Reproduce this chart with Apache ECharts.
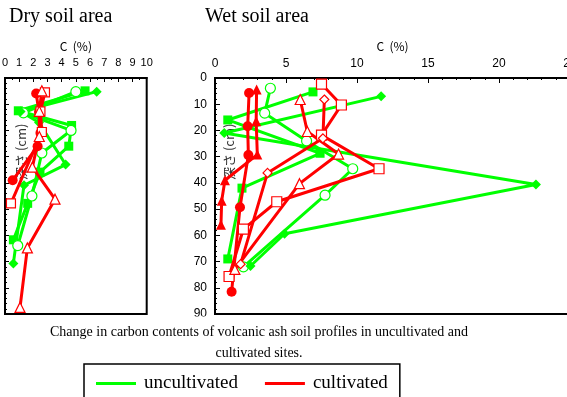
<!DOCTYPE html>
<html>
<head>
<meta charset="utf-8">
<script src="https://cdn.jsdelivr.net/npm/echarts@6/dist/echarts.min.js"></script>
<style>
  html, body { margin: 0; padding: 0; background: #fff; }
  #chart { width: 567px; height: 397px; }
</style>
</head>
<body>
<div id="chart"></div>
<script>
// [C %, depth cm]
const dryUncultSquare = [[5.65,4.9],[0.94,12.5],[4.7,18.1],[4.5,26],[2.47,35.9],[1.6,47.8],[0.59,61.7]];
const dryUncultCircle = [[5.0,5.2],[1.3,13.3],[4.66,20],[2.6,28.6],[1.9,45],[0.9,63.9]];
const dryUncultDiamond = [[6.47,5.2],[1.1,12.8],[2.4,17],[4.28,33],[1.34,40.9],[0.59,70.7]];
const dryCultCircle = [[2.2,5.9],[2.4,13],[2.5,21],[2.3,26],[0.54,39]];
const dryCultSquare = [[2.82,5.5],[2.5,12.7],[2.6,20.6],[0.42,47.8]];
const dryCultTriangle = [[2.6,4.9],[2.42,12.7],[2.42,22.3],[1.93,34],[3.53,46.2],[1.58,64.8],[1.06,87.5]];

const wetUncultSquare = [[6.9,5.3],[0.9,16],[7.4,28.7],[1.9,42],[0.9,69]];
const wetUncultCircle = [[3.9,3.9],[3.5,13.4],[6.45,24],[9.7,34.6],[7.75,44.7],[2.0,72]];
const wetUncultDiamond = [[11.7,7],[0.65,21],[22.6,40.6],[4.9,59.4],[2.5,71.7]];
const wetCultCircle = [[2.4,5.7],[2.3,18.4],[2.35,29.4],[1.76,49.3],[1.17,81.5]];
const wetCultTriFilled = [[2.93,4.4],[2.9,16.5],[2.98,29.2],[0.7,39],[0.47,46.8],[0.42,56]];
const wetCultSquare = [[7.5,2.3],[8.9,10.3],[7.5,21.8],[11.55,34.6],[4.35,47.2],[2.0,57.6],[0.99,75.7]];
const wetCultTriangle = [[6.0,8.2],[6.5,20.4],[8.7,29],[5.95,40.3],[1.4,73]];
const wetCultDiamond = [[7.7,8.2],[7.6,23],[3.7,36.2],[1.8,71]];

const GREEN = '#00ff00', RED = '#ff0000';
const chart = echarts.init(document.getElementById('chart'));

function mk(name, data, idx, symbol, filled, color, size) {
  return {
    name, type: 'line', data, xAxisIndex: idx, yAxisIndex: idx,
    symbol, symbolSize: size || 9, showSymbol: true,
    lineStyle: { color, width: 3 },
    itemStyle: filled ? { color } : { color: '#fff', borderColor: color, borderWidth: 1.2 },
    z: color === RED ? 3 : 2
  };
}

const tickLbl = { color: '#000', fontSize: 11, fontFamily: 'Liberation Sans' };
const axLine = { lineStyle: { color: '#000', width: 2 } };
const jpLabel = { text: '深さ (cm)', fontSize: 13, fontFamily: 'Noto Sans CJK JP', fill: '#333' };

chart.setOption({
  animation: false,
  grid: [
    { left: 5, top: 78, width: 141.7, height: 236, show: true, borderColor: '#000', borderWidth: 2,
      containLabel: false, outerBoundsMode: 'none' },
    { left: 215, top: 78, width: 355, height: 236, show: true, borderColor: '#000', borderWidth: 2,
      containLabel: false, outerBoundsMode: 'none' }
  ],
  xAxis: [
    { gridIndex: 0, type: 'value', position: 'top', min: 0, max: 10, interval: 1,
      name: 'C  (%)', nameLocation: 'middle', nameGap: 26,
      nameTextStyle: { color: '#000', fontSize: 12, fontFamily: 'Noto Sans CJK JP' },
      axisLine: axLine, axisTick: { inside: true, length: 4, lineStyle: { color: '#000' } },
      minorTick: { show: true, splitNumber: 2, length: 2, lineStyle: { color: '#000' } },
      axisLabel: { ...tickLbl, margin: 10 }, splitLine: { show: false } },
    { gridIndex: 1, type: 'value', position: 'top', min: 0, max: 25, interval: 5,
      name: 'C  (%)', nameLocation: 'middle', nameGap: 26,
      nameTextStyle: { color: '#000', fontSize: 12, fontFamily: 'Noto Sans CJK JP' },
      axisLine: axLine, axisTick: { inside: true, length: 5, lineStyle: { color: '#000' } },
      minorTick: { show: true, splitNumber: 5, length: 2, lineStyle: { color: '#000' } },
      axisLabel: { ...tickLbl, fontSize: 12, margin: 8 }, splitLine: { show: false } }
  ],
  yAxis: [
    { gridIndex: 0, type: 'value', inverse: true, min: 0, max: 90, interval: 10,
      axisLine: axLine, axisTick: { inside: true, length: 4, lineStyle: { color: '#000' } },
      minorTick: { show: true, splitNumber: 5, length: 2, lineStyle: { color: '#000' } },
      axisLabel: { show: false }, splitLine: { show: false } },
    { gridIndex: 1, type: 'value', inverse: true, min: 0, max: 90, interval: 10,
      axisLine: axLine, axisTick: { inside: true, length: 5, lineStyle: { color: '#000' } },
      minorTick: { show: true, splitNumber: 5, length: 2, lineStyle: { color: '#000' } },
      axisLabel: { ...tickLbl, fontSize: 12, margin: 8 }, splitLine: { show: false } }
  ],
  legend: {
    left: 84, top: 364, padding: [10, 12], itemGap: 27, itemWidth: 40, itemHeight: 3,
    borderColor: '#000', borderWidth: 1.5, selectedMode: false,
    textStyle: { color: '#000', fontSize: 19, fontFamily: 'Liberation Serif', padding: [0, 0, 0, 3] },
    data: [
      { name: 'uncultivated', icon: 'rect', itemStyle: { color: GREEN, borderWidth: 0 } },
      { name: 'cultivated', icon: 'rect', itemStyle: { color: RED, borderWidth: 0 } }
    ]
  },
  graphic: [
    { type: 'text', left: 9, top: 7, style: { text: 'Dry soil area', fontSize: 20, fontFamily: 'Liberation Serif', fill: '#000' } },
    { type: 'text', left: 205, top: 7, style: { text: 'Wet soil area', fontSize: 20, fontFamily: 'Liberation Serif', fill: '#000' } },
    { type: 'text', x: 15, y: 180, rotation: Math.PI / 2, style: jpLabel, z: 0 },
    { type: 'text', x: 223, y: 180, rotation: Math.PI / 2, style: jpLabel, z: 0 },
    { type: 'rect', shape: { x: 0, y: 316.5, width: 567, height: 5 }, style: { fill: '#fff' }, z: 100 },
    { type: 'text', x: 259, y: 322, style: { text: 'Change in carbon contents of volcanic ash soil profiles in uncultivated and\ncultivated sites.',
        fontSize: 14, lineHeight: 21, fontFamily: 'Liberation Serif', fill: '#000', align: 'center' } }
  ],
  series: [
    mk('uncultivated', dryUncultSquare, 0, 'rect', true, GREEN, 9),
    mk('uncultivated', dryUncultCircle, 0, 'circle', false, GREEN, 10),
    mk('uncultivated', dryUncultDiamond, 0, 'diamond', true, GREEN, 10),
    mk('cultivated', dryCultCircle, 0, 'circle', true, RED, 10),
    mk('cultivated', dryCultSquare, 0, 'rect', false, RED, 9),
    mk('cultivated', dryCultTriangle, 0, 'triangle', false, RED, 10),
    mk('uncultivated', wetUncultSquare, 1, 'rect', true, GREEN, 9),
    mk('uncultivated', wetUncultCircle, 1, 'circle', false, GREEN, 10),
    mk('uncultivated', wetUncultDiamond, 1, 'diamond', true, GREEN, 10),
    mk('cultivated', wetCultCircle, 1, 'circle', true, RED, 10),
    mk('cultivated', wetCultTriFilled, 1, 'triangle', true, RED, 10),
    mk('cultivated', wetCultSquare, 1, 'rect', false, RED, 10),
    mk('cultivated', wetCultTriangle, 1, 'triangle', false, RED, 10),
    mk('cultivated', wetCultDiamond, 1, 'diamond', false, RED, 9)
  ]
});
</script>
</body>
</html>
